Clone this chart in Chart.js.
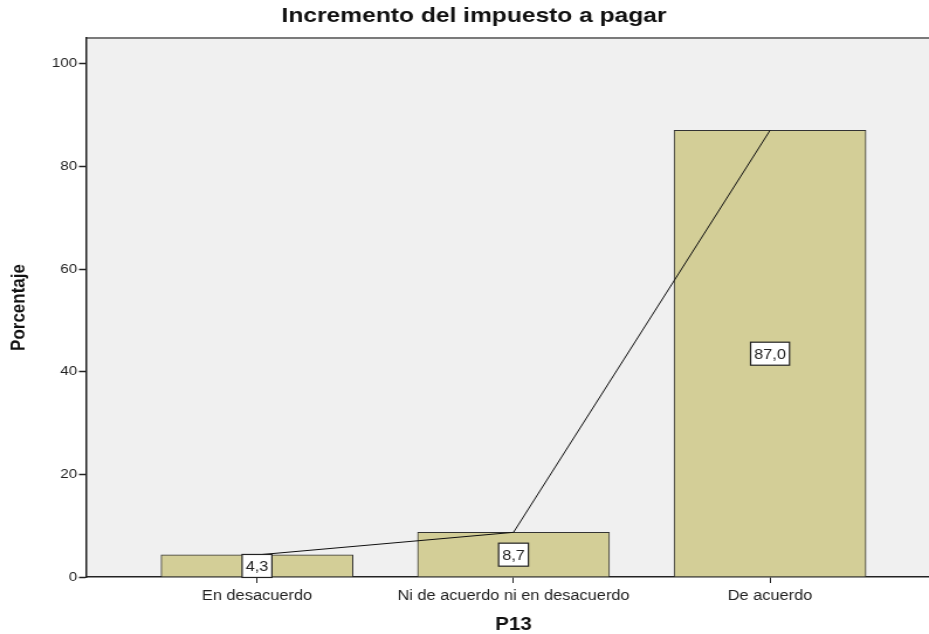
<!DOCTYPE html>
<html>
<head>
<meta charset="utf-8">
<script src="https://cdn.jsdelivr.net/npm/chart.js@4/dist/chart.umd.min.js"></script>
<style>
  html, body { margin:0; padding:0; background:#fff; overflow:hidden; }
  #wrap { width:929px; height:634px; overflow:hidden; }
  /* the reference image is stretched sideways, so the chart is too */
  #box { width:808px; height:634px; transform:scaleX(1.17); transform-origin:0 0; }
</style>
</head>
<body>
<div id="wrap"><div id="box"><canvas id="chart"></canvas></div></div>
<script>
// Data
const categories = ['En desacuerdo', 'Ni de acuerdo ni en desacuerdo', 'De acuerdo'];
const percentages = [4.3, 8.7, 87.0];
const yTicks = [0, 20, 40, 60, 80, 100];

const points = categories.map((c,i)=>({x:i+1, y:percentages[i]}));
const FONT = '"Liberation Sans", Arial, sans-serif';

// plot background + grey top border
const plotBg = {
  id:'plotBg',
  beforeDraw(chart){
    const {ctx, chartArea:a} = chart;
    ctx.save();
    ctx.fillStyle = '#f0f0f0';
    ctx.fillRect(a.left, a.top, a.right-a.left, a.bottom-a.top);
    ctx.strokeStyle = '#7a7a7a';
    ctx.lineWidth = 2;
    ctx.beginPath();
    ctx.moveTo(a.left, a.top);
    ctx.lineTo(a.right, a.top);
    ctx.stroke();
    ctx.restore();
  }
};

// white boxed labels in the middle of each bar
const boxLabels = {
  id:'boxLabels',
  afterDatasetsDraw(chart){
    const {ctx} = chart;
    const meta = chart.getDatasetMeta(0);
    const y = chart.scales.y;
    ctx.save();
    ctx.font = '14px ' + FONT;
    ctx.textAlign = 'center';
    ctx.textBaseline = 'middle';
    meta.data.forEach((bar,i)=>{
      const txt = percentages[i].toFixed(1).replace('.', ',');
      const cy = y.getPixelForValue(percentages[i]/2);
      const w = ctx.measureText(txt).width + 6;
      const h = 23;
      ctx.fillStyle = '#fff';
      ctx.fillRect(bar.x - w/2, cy - h/2, w, h);
      ctx.strokeStyle = '#222';
      ctx.lineWidth = 1.2;
      ctx.strokeRect(bar.x - w/2, cy - h/2, w, h);
      ctx.fillStyle = '#222';
      ctx.fillText(txt, bar.x, cy + 1);
    });
    ctx.restore();
  }
};

new Chart(document.getElementById('chart'), {
  data:{
    datasets:[
      {type:'bar', data:points, backgroundColor:'#d3ce97', borderColor:'#333', borderWidth:1, barThickness:164, order:1},
      {type:'line', data:points, borderColor:'#111', borderWidth:1, pointRadius:0, tension:0, fill:false, order:0}
    ]
  },
  options:{
    responsive:true,
    maintainAspectRatio:false,
    animation:false,
    layout:{padding:{left:6, right:3.7, top:0, bottom:0}},
    plugins:{
      legend:{display:false},
      tooltip:{enabled:false},
      title:{display:true, text:'Incremento del impuesto a pagar', color:'#111',
        font:{family:FONT, size:21, weight:'bold'}, padding:{top:4, bottom:8.8}}
    },
    scales:{
      x:{
        type:'linear', min:1/3, max:11/3, offset:false,
        afterBuildTicks(s){ s.ticks = categories.map((c,i)=>({value:i+1})); },
        afterFit(s){ s.height = 57; },
        ticks:{callback:(v)=>categories[v-1], color:'#222', font:{family:FONT, size:14}, padding:5, maxRotation:0, autoSkip:false},
        grid:{drawOnChartArea:false, offset:false, tickLength:6, color:'#222', tickWidth:1},
        border:{color:'#222', width:1.5},
        title:{display:true, text:'P13', color:'#111', font:{family:FONT, size:17.5, weight:'bold', lineHeight:1}, padding:{top:0, bottom:0}}
      },
      y:{
        min:0, max:105,
        afterBuildTicks(s){ s.ticks = yTicks.map(v=>({value:v})); },
        afterFit(s){ s.width = 67.5; },
        ticks:{color:'#222', font:{family:FONT, size:13}, padding:1.5},
        grid:{drawOnChartArea:false, tickLength:6, color:'#222', tickWidth:1.5},
        border:{color:'#222', width:1.5},
        title:{display:true, text:'Porcentaje', color:'#111', font:{family:FONT, size:17, weight:'bold'}, padding:{top:0, bottom:0}}
      }
    }
  },
  plugins:[plotBg, boxLabels]
});
</script>
</body>
</html>
